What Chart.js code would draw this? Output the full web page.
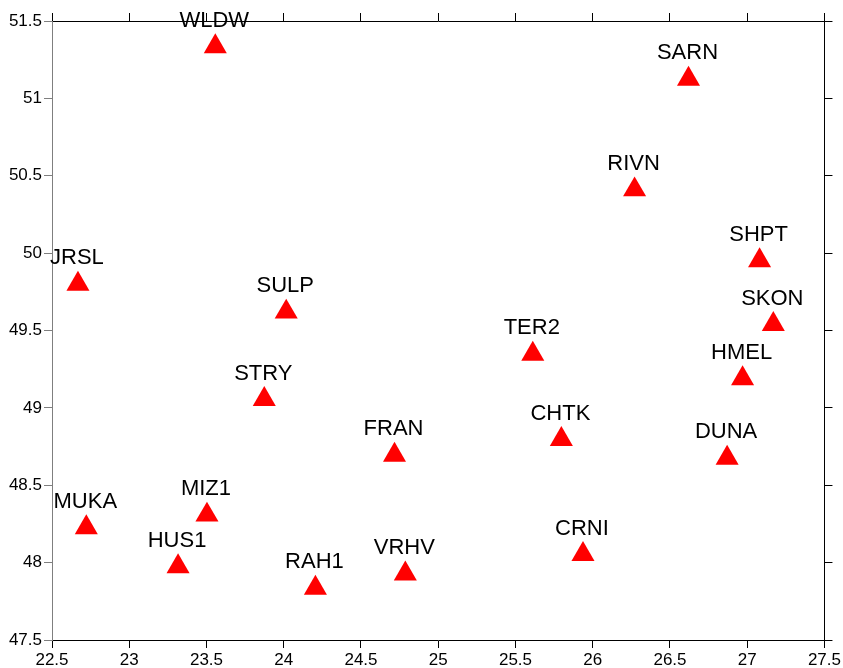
<!DOCTYPE html>
<html>
<head>
<meta charset="utf-8">
<script src="https://cdn.jsdelivr.net/npm/chart.js@4/dist/chart.umd.min.js"></script>
<style>
html,body{margin:0;padding:0;background:#fff;}
canvas{display:block;}
</style>
</head>
<body>
<canvas id="c" width="843" height="668"></canvas>
<script>
const stationNames = ['WLDW','SARN','RIVN','SHPT','JRSL','SULP','SKON','TER2','HMEL','STRY','CHTK','FRAN','DUNA','MUKA','MIZ1','CRNI','HUS1','VRHV','RAH1'];
const longitudes  = [23.557,26.620,26.271,27.080,22.668,24.016,27.169,25.612,26.970,23.874,25.797,24.717,26.870,22.722,23.503,25.937,23.316,24.787,24.205];
const latitudes   = [51.335,51.125,50.410,49.952,49.800,49.620,49.540,49.348,49.189,49.055,48.797,48.695,48.676,48.226,48.308,48.054,47.974,47.927,47.836];
const xTickLabels = ['22.5','23','23.5','24','24.5','25','25.5','26','26.5','27','27.5'];
const yTickLabels = ['47.5','48','48.5','49','49.5','50','50.5','51','51.5'];

const FONT = "'Liberation Sans', Arial, sans-serif";
const R = 13.3;

const points = stationNames.map((n, i) => ({x: longitudes[i], y: latitudes[i]}));

const labelPlugin = {
  id: 'stationLabels',
  afterDatasetsDraw(chart) {
    const ctx = chart.ctx;
    const meta = chart.getDatasetMeta(0);
    ctx.save();
    ctx.font = '22px ' + FONT;
    ctx.fillStyle = '#000';
    ctx.textAlign = 'center';
    ctx.textBaseline = 'alphabetic';
    meta.data.forEach((el, i) => {
      ctx.fillText(stationNames[i], el.x - 1, el.y - R - 6.4);
    });
    ctx.restore();
  }
};

function axisCommon(color) {
  return {
    grid: {display: true, drawOnChartArea: false, drawTicks: true, tickLength: 8, color: color, lineWidth: 1},
    border: {display: true, color: color, width: 1}
  };
}

new Chart(document.getElementById('c'), {
  type: 'scatter',
  data: {
    datasets: [{
      data: points,
      pointStyle: 'triangle',
      pointRadius: R,
      pointHoverRadius: R,
      backgroundColor: '#ff0000',
      borderWidth: 0,
      clip: false
    }]
  },
  options: {
    responsive: false,
    animation: false,
    events: [],
    layout: {padding: 0},
    plugins: {legend: {display: false}, tooltip: {enabled: false}},
    scales: {
      x: Object.assign(axisCommon('#000'), {
        type: 'linear', position: 'bottom', min: 22.5, max: 27.5,
        ticks: {stepSize: 0.5, color: '#000', padding: 2, font: {family: FONT, size: 17},
          maxRotation: 0, autoSkip: false, callback: (v, i) => xTickLabels[i]},
        afterFit: s => { s.height = 28; }
      }),
      x2: Object.assign(axisCommon('#000'), {
        type: 'linear', position: 'top', min: 22.5, max: 27.5,
        ticks: {stepSize: 0.5, display: false},
        afterFit: s => { s.height = 21; }
      }),
      y: Object.assign(axisCommon('#7f7f7f'), {
        type: 'linear', position: 'left', min: 47.5, max: 51.5,
        ticks: {stepSize: 0.5, color: '#000', padding: 2, font: {family: FONT, size: 17},
          autoSkip: false, callback: (v, i) => yTickLabels[i]},
        afterFit: s => { s.width = 52; }
      }),
      y2: Object.assign(axisCommon('#000'), {
        type: 'linear', position: 'right', min: 47.5, max: 51.5,
        ticks: {stepSize: 0.5, display: false},
        afterFit: s => { s.width = 17; }
      })
    }
  },
  plugins: [labelPlugin]
});
</script>
</body>
</html>
